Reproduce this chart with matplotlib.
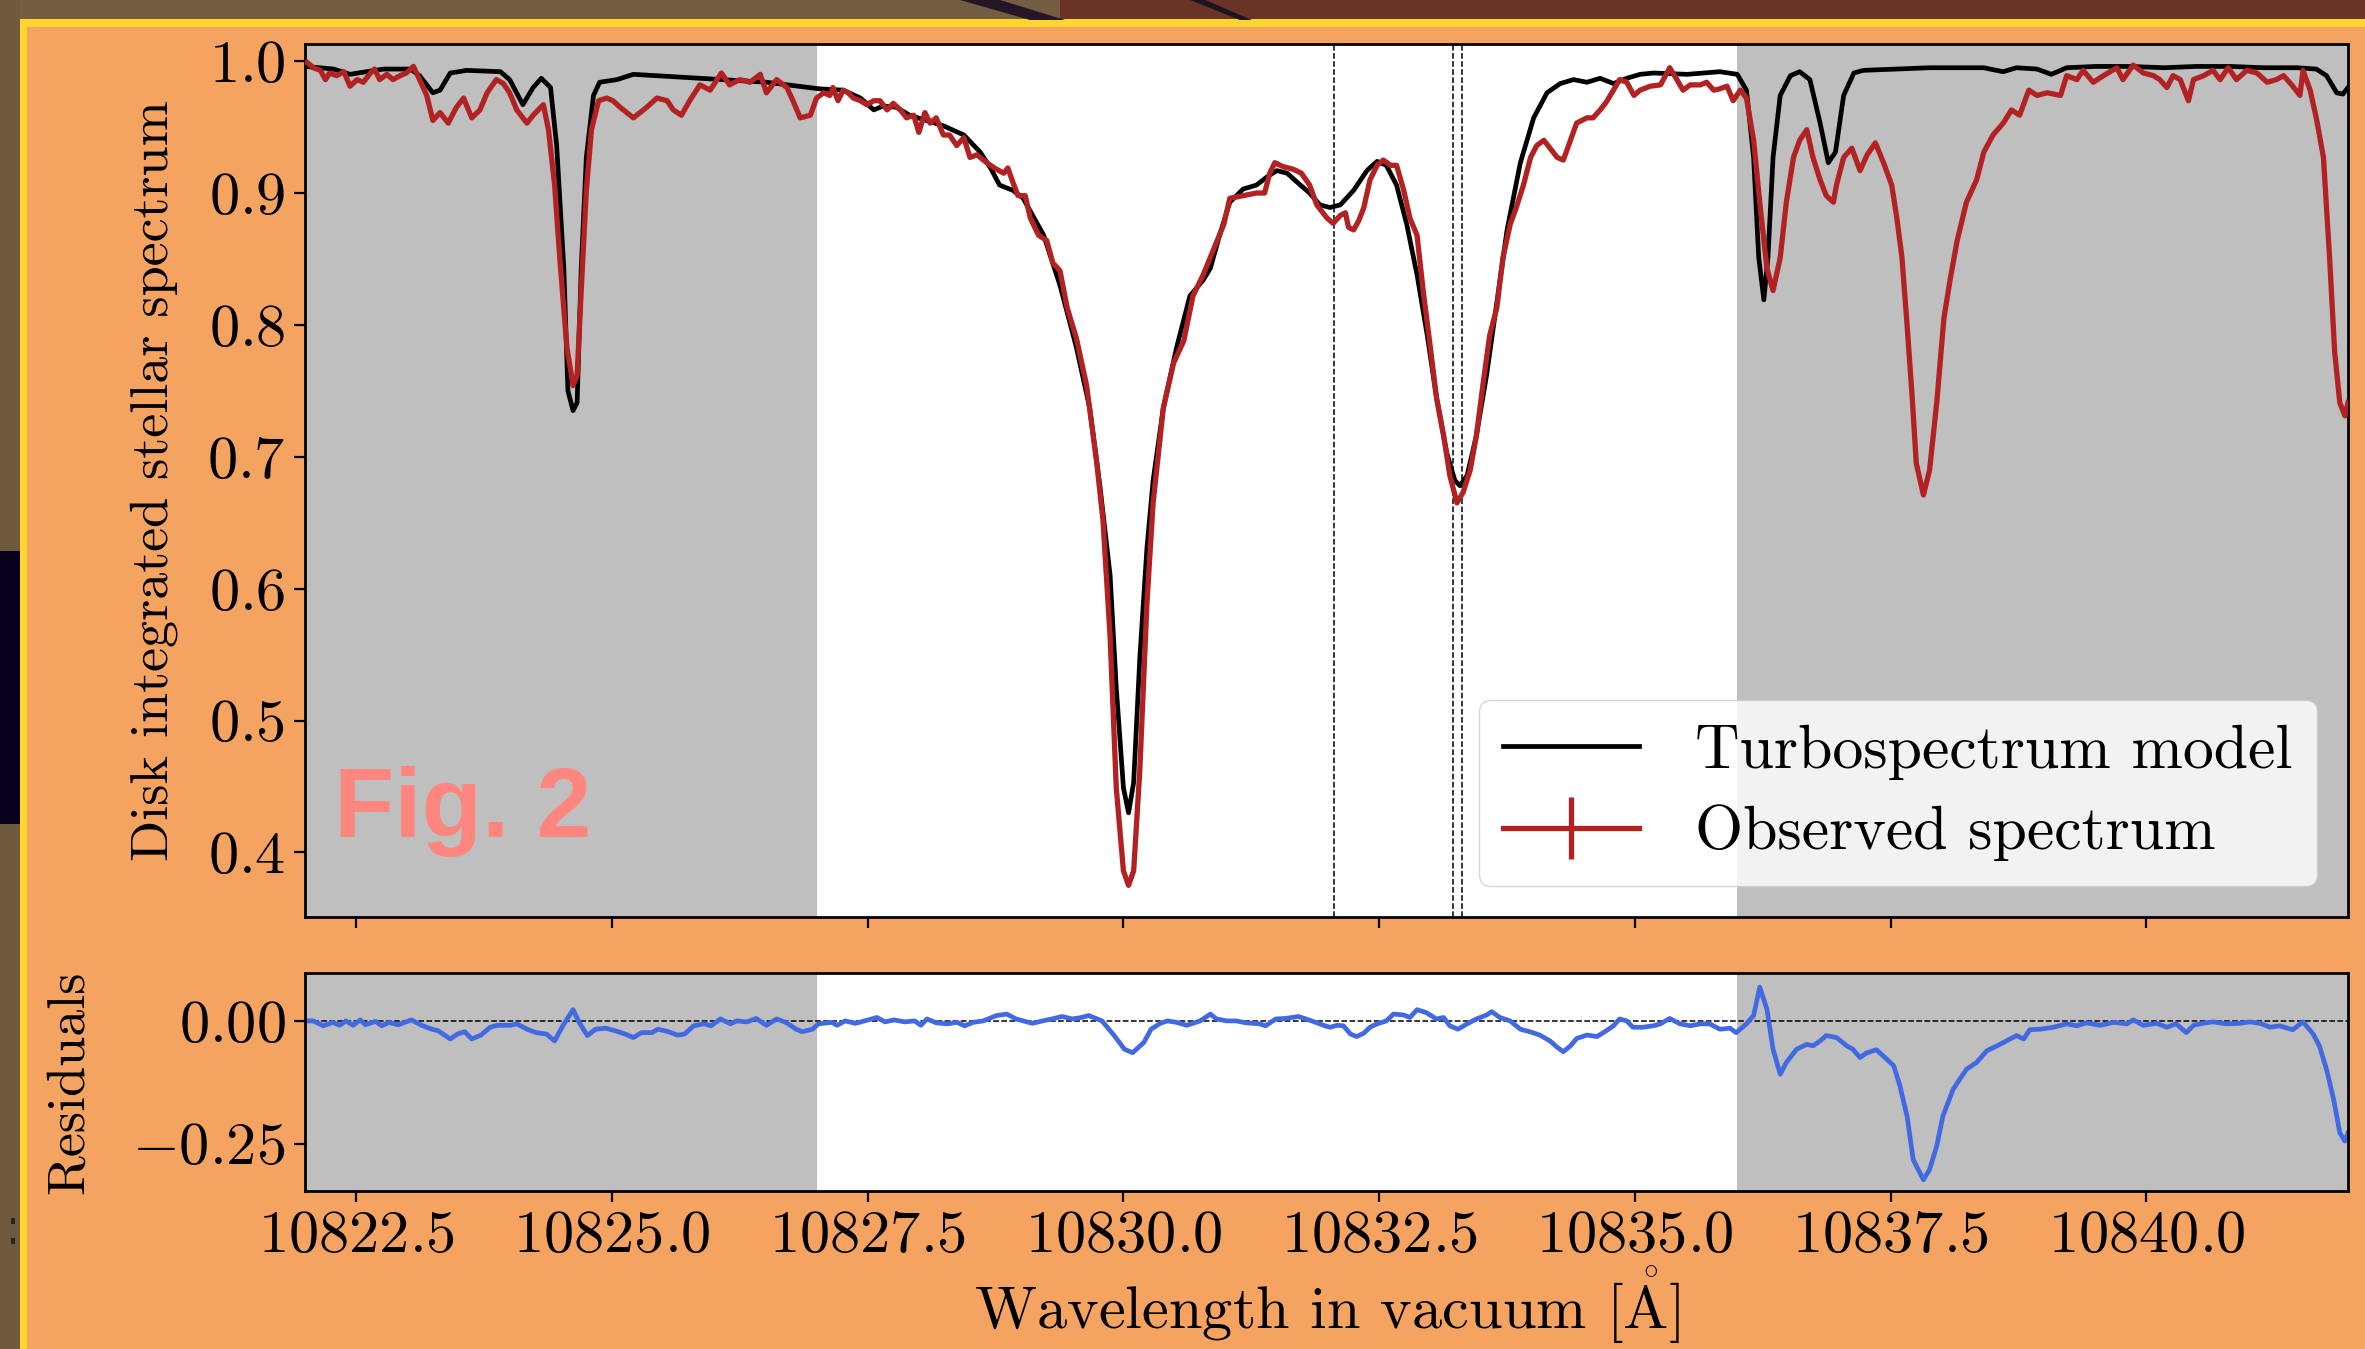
import numpy as np
import matplotlib
matplotlib.use('Agg')
import matplotlib.pyplot as plt
from matplotlib.patches import Rectangle, Polygon

# --- data ---
# Turbospectrum model (wavelength [A], normalised flux)
MODEL = [
    (10822.00, 0.996), (10822.28, 0.994), (10822.44, 0.990), (10822.60, 0.992), (10822.77, 0.994),
    (10823.03, 0.994), (10823.12, 0.989), (10823.25, 0.976), (10823.32, 0.978), (10823.42, 0.991),
    (10823.58, 0.993), (10823.91, 0.992), (10824.00, 0.986), (10824.13, 0.967), (10824.23, 0.980),
    (10824.31, 0.987), (10824.40, 0.980), (10824.46, 0.936), (10824.53, 0.843), (10824.57, 0.750),
    (10824.62, 0.735), (10824.66, 0.741), (10824.70, 0.843), (10824.75, 0.927), (10824.82, 0.974),
    (10824.88, 0.984), (10825.05, 0.986), (10825.21, 0.990), (10825.86, 0.987), (10826.51, 0.984),
    (10827.03, 0.979), (10827.26, 0.978), (10827.43, 0.972), (10827.56, 0.963), (10827.65, 0.966),
    (10827.78, 0.965), (10827.91, 0.959), (10828.24, 0.951), (10828.44, 0.944), (10828.60, 0.931),
    (10828.70, 0.919), (10828.79, 0.906), (10828.92, 0.902), (10829.02, 0.896), (10829.22, 0.868),
    (10829.38, 0.830), (10829.54, 0.783), (10829.67, 0.737), (10829.77, 0.678), (10829.87, 0.610),
    (10829.93, 0.525), (10830.00, 0.449), (10830.05, 0.430), (10830.10, 0.453), (10830.16, 0.547),
    (10830.23, 0.631), (10830.29, 0.682), (10830.39, 0.737), (10830.52, 0.783), (10830.65, 0.822),
    (10830.78, 0.834), (10830.85, 0.843), (10830.94, 0.868), (10831.04, 0.893), (10831.17, 0.903),
    (10831.30, 0.906), (10831.40, 0.912), (10831.50, 0.917), (10831.60, 0.915), (10831.73, 0.906),
    (10831.82, 0.900), (10831.92, 0.891), (10832.02, 0.889), (10832.12, 0.891), (10832.25, 0.902),
    (10832.38, 0.917), (10832.48, 0.924), (10832.57, 0.921), (10832.67, 0.906), (10832.77, 0.876),
    (10832.87, 0.838), (10832.97, 0.792), (10833.06, 0.745), (10833.16, 0.703), (10833.24, 0.682),
    (10833.29, 0.678), (10833.36, 0.686), (10833.45, 0.716), (10833.55, 0.762), (10833.65, 0.817),
    (10833.75, 0.872), (10833.88, 0.923), (10834.01, 0.957), (10834.14, 0.976), (10834.27, 0.983),
    (10834.40, 0.986), (10834.53, 0.984), (10834.66, 0.987), (10834.79, 0.983), (10834.92, 0.987),
    (10835.05, 0.990), (10835.18, 0.991), (10835.51, 0.990), (10835.83, 0.992), (10836.00, 0.990),
    (10836.09, 0.978), (10836.16, 0.927), (10836.21, 0.851), (10836.26, 0.819), (10836.30, 0.851),
    (10836.35, 0.927), (10836.42, 0.974), (10836.52, 0.989), (10836.61, 0.992), (10836.71, 0.986),
    (10836.81, 0.953), (10836.89, 0.923), (10836.96, 0.931), (10837.04, 0.974), (10837.14, 0.991),
    (10837.23, 0.993), (10837.56, 0.994), (10837.88, 0.995), (10838.41, 0.995), (10838.47, 0.994),
    (10838.60, 0.992), (10838.73, 0.995), (10838.93, 0.994), (10839.07, 0.990), (10839.22, 0.995),
    (10839.51, 0.996), (10839.84, 0.996), (10840.17, 0.995), (10840.49, 0.996), (10840.82, 0.996),
    (10841.14, 0.995), (10841.47, 0.995), (10841.66, 0.994), (10841.76, 0.989), (10841.86, 0.976),
    (10841.92, 0.975), (10841.97, 0.980),
]

# observed disk integrated spectrum
OBSERVED = [
    (10822.02, 0.999), (10822.08, 0.995), (10822.15, 0.993), (10822.20, 0.986), (10822.24, 0.991),
    (10822.31, 0.989), (10822.38, 0.992), (10822.44, 0.981), (10822.51, 0.986), (10822.57, 0.984),
    (10822.64, 0.991), (10822.68, 0.994), (10822.73, 0.986), (10822.80, 0.990), (10822.86, 0.986),
    (10822.93, 0.989), (10822.99, 0.991), (10823.06, 0.996), (10823.12, 0.986), (10823.19, 0.974),
    (10823.25, 0.955), (10823.32, 0.961), (10823.40, 0.953), (10823.48, 0.965), (10823.55, 0.972),
    (10823.63, 0.957), (10823.71, 0.963), (10823.78, 0.976), (10823.87, 0.986), (10823.94, 0.983),
    (10824.00, 0.976), (10824.07, 0.963), (10824.17, 0.953), (10824.23, 0.959), (10824.33, 0.967),
    (10824.38, 0.948), (10824.44, 0.906), (10824.49, 0.851), (10824.56, 0.783), (10824.62, 0.754),
    (10824.66, 0.762), (10824.70, 0.826), (10824.75, 0.902), (10824.80, 0.948), (10824.87, 0.970),
    (10824.95, 0.972), (10825.01, 0.970), (10825.08, 0.965), (10825.21, 0.957), (10825.34, 0.965),
    (10825.44, 0.972), (10825.54, 0.970), (10825.60, 0.963), (10825.68, 0.959), (10825.76, 0.970),
    (10825.86, 0.982), (10825.96, 0.978), (10826.07, 0.991), (10826.15, 0.982), (10826.25, 0.986),
    (10826.35, 0.984), (10826.45, 0.990), (10826.51, 0.976), (10826.61, 0.986), (10826.71, 0.980),
    (10826.77, 0.970), (10826.84, 0.957), (10826.94, 0.959),
    (10827.00, 0.972), (10827.07, 0.976), (10827.13, 0.974), (10827.16, 0.980), (10827.21, 0.970),
    (10827.26, 0.978), (10827.31, 0.976), (10827.36, 0.972), (10827.43, 0.970), (10827.49, 0.967),
    (10827.56, 0.970), (10827.62, 0.970), (10827.69, 0.963), (10827.75, 0.968), (10827.82, 0.963),
    (10827.88, 0.957), (10827.95, 0.959), (10828.00, 0.946), (10828.06, 0.961), (10828.11, 0.953),
    (10828.17, 0.957), (10828.24, 0.944), (10828.30, 0.944), (10828.37, 0.936), (10828.44, 0.942),
    (10828.50, 0.927), (10828.57, 0.929), (10828.63, 0.925), (10828.70, 0.921), (10828.76, 0.918),
    (10828.83, 0.915), (10828.87, 0.919), (10828.92, 0.908), (10828.97, 0.898), (10829.04, 0.898),
    (10829.09, 0.881), (10829.17, 0.868), (10829.25, 0.864), (10829.31, 0.847), (10829.38, 0.841),
    (10829.45, 0.813), (10829.54, 0.790), (10829.64, 0.754), (10829.74, 0.695), (10829.80, 0.652),
    (10829.87, 0.563), (10829.93, 0.449), (10830.00, 0.386), (10830.05, 0.375), (10830.10, 0.386),
    (10830.16, 0.462), (10830.23, 0.589), (10830.29, 0.665), (10830.39, 0.737), (10830.49, 0.771),
    (10830.59, 0.788), (10830.68, 0.822), (10830.78, 0.838), (10830.88, 0.857), (10830.98, 0.876),
    (10831.04, 0.896), (10831.17, 0.898), (10831.30, 0.900), (10831.38, 0.900), (10831.43, 0.915),
    (10831.48, 0.923), (10831.56, 0.920), (10831.66, 0.918), (10831.74, 0.915), (10831.82, 0.906),
    (10831.89, 0.891), (10831.95, 0.885),
    (10831.99, 0.881), (10832.05, 0.877), (10832.12, 0.883), (10832.17, 0.885), (10832.20, 0.874),
    (10832.25, 0.872), (10832.30, 0.879), (10832.35, 0.889), (10832.41, 0.910), (10832.48, 0.921),
    (10832.54, 0.925), (10832.61, 0.921), (10832.67, 0.921), (10832.74, 0.902), (10832.80, 0.881),
    (10832.87, 0.868), (10832.93, 0.826), (10833.00, 0.783), (10833.06, 0.745), (10833.13, 0.716),
    (10833.19, 0.686), (10833.26, 0.665), (10833.32, 0.673), (10833.39, 0.690), (10833.45, 0.716),
    (10833.52, 0.758), (10833.58, 0.792), (10833.65, 0.813), (10833.71, 0.851), (10833.78, 0.876),
    (10833.84, 0.889), (10833.91, 0.906), (10833.98, 0.927), (10834.04, 0.936), (10834.11, 0.940),
    (10834.17, 0.934), (10834.24, 0.927), (10834.30, 0.925), (10834.37, 0.940), (10834.43, 0.953),
    (10834.53, 0.957), (10834.59, 0.957), (10834.66, 0.963), (10834.72, 0.969), (10834.79, 0.978),
    (10834.85, 0.986), (10834.92, 0.984), (10834.99, 0.974), (10835.05, 0.978), (10835.15, 0.981),
    (10835.25, 0.982), (10835.34, 0.995), (10835.41, 0.986), (10835.47, 0.978), (10835.54, 0.982),
    (10835.64, 0.982), (10835.70, 0.984), (10835.77, 0.978), (10835.83, 0.979), (10835.90, 0.981),
    (10835.96, 0.970), (10836.03, 0.978), (10836.09, 0.972), (10836.16, 0.940), (10836.22, 0.893),
    (10836.29, 0.843), (10836.35, 0.826), (10836.42, 0.851), (10836.48, 0.893), (10836.55, 0.927),
    (10836.61, 0.940), (10836.68, 0.948), (10836.74, 0.927), (10836.81, 0.910), (10836.87, 0.898),
    (10836.94, 0.893),
    (10836.97, 0.906), (10837.04, 0.927), (10837.12, 0.934), (10837.20, 0.917), (10837.27, 0.929),
    (10837.35, 0.938), (10837.43, 0.923), (10837.51, 0.906), (10837.56, 0.881), (10837.61, 0.851),
    (10837.66, 0.800), (10837.71, 0.745), (10837.75, 0.695), (10837.82, 0.671), (10837.88, 0.690),
    (10837.95, 0.741), (10838.02, 0.805), (10838.08, 0.834), (10838.15, 0.864), (10838.24, 0.893),
    (10838.34, 0.910), (10838.41, 0.931), (10838.50, 0.944), (10838.60, 0.953), (10838.68, 0.963),
    (10838.76, 0.959), (10838.85, 0.978), (10838.93, 0.974), (10839.03, 0.976), (10839.16, 0.974),
    (10839.22, 0.989), (10839.32, 0.986), (10839.38, 0.993), (10839.48, 0.984), (10839.58, 0.989),
    (10839.71, 0.995), (10839.77, 0.986), (10839.87, 0.997), (10839.97, 0.991), (10840.07, 0.989),
    (10840.13, 0.986), (10840.20, 0.980), (10840.26, 0.989), (10840.33, 0.986), (10840.41, 0.970),
    (10840.46, 0.986), (10840.56, 0.989), (10840.65, 0.993), (10840.72, 0.986), (10840.80, 0.995),
    (10840.88, 0.986), (10840.98, 0.993), (10841.08, 0.991), (10841.18, 0.984), (10841.27, 0.986),
    (10841.34, 0.989), (10841.42, 0.982), (10841.50, 0.974), (10841.53, 0.993), (10841.60, 0.978),
    (10841.66, 0.957), (10841.73, 0.927), (10841.79, 0.851), (10841.84, 0.779), (10841.89, 0.741),
    (10841.94, 0.731), (10841.97, 0.741),
]
OBS_ERR = 0.0

# residuals (observed - model)
RESIDUALS = [
    (10822.02, 0.001), (10822.08, 0.001), (10822.18, -0.009), (10822.27, -0.002), (10822.34, -0.008),
    (10822.40, 0.001), (10822.47, -0.008), (10822.54, 0.003), (10822.59, -0.007), (10822.69, 0.000),
    (10822.75, -0.009), (10822.82, -0.002), (10822.91, -0.007), (10823.04, 0.003), (10823.14, -0.008),
    (10823.24, -0.016), (10823.30, -0.019), (10823.42, -0.036), (10823.49, -0.026), (10823.56, -0.021),
    (10823.63, -0.036), (10823.72, -0.028), (10823.81, -0.012), (10823.88, -0.008), (10824.01, -0.008),
    (10824.07, -0.005), (10824.17, -0.016), (10824.26, -0.023), (10824.36, -0.026), (10824.44, -0.040),
    (10824.52, -0.009), (10824.62, 0.024), (10824.68, -0.002), (10824.76, -0.029), (10824.84, -0.016),
    (10824.94, -0.014), (10825.03, -0.019), (10825.13, -0.026), (10825.21, -0.033), (10825.29, -0.023),
    (10825.39, -0.023), (10825.45, -0.016), (10825.55, -0.021), (10825.64, -0.028), (10825.71, -0.026),
    (10825.80, -0.009), (10825.90, -0.005), (10825.97, -0.009), (10826.06, 0.005), (10826.16, -0.005),
    (10826.22, 0.001), (10826.32, -0.001), (10826.41, 0.006), (10826.51, -0.008), (10826.61, 0.005),
    (10826.70, -0.002), (10826.80, -0.016), (10826.86, -0.021), (10826.96, -0.016), (10827.02, -0.005),
    (10827.15, -0.002), (10827.20, -0.008), (10827.28, 0.001), (10827.38, -0.004), (10827.47, 0.001),
    (10827.59, 0.008), (10827.67, -0.001), (10827.76, 0.003), (10827.86, -0.001), (10827.96, 0.001),
    (10828.02, -0.008), (10828.08, 0.005), (10828.17, -0.003), (10828.28, -0.005), (10828.37, -0.002),
    (10828.45, -0.009), (10828.53, -0.002), (10828.63, 0.001), (10828.76, 0.012), (10828.86, 0.015),
    (10828.95, 0.005), (10829.02, 0.001), (10829.11, -0.004), (10829.21, 0.001), (10829.30, 0.005),
    (10829.40, 0.010), (10829.50, 0.005), (10829.59, 0.008), (10829.66, 0.012), (10829.79, 0.001),
    (10829.91, -0.029), (10830.01, -0.057), (10830.09, -0.064), (10830.20, -0.043), (10830.27, -0.016),
    (10830.36, -0.004), (10830.43, 0.001), (10830.52, -0.002), (10830.62, -0.008), (10830.75, 0.001),
    (10830.85, 0.015), (10830.91, 0.005), (10831.01, 0.001), (10831.10, 0.001), (10831.20, -0.003),
    (10831.33, -0.005), (10831.39, -0.009), (10831.49, 0.005), (10831.58, 0.006), (10831.71, 0.010),
    (10831.84, 0.001), (10831.97, -0.009),
    (10832.02, -0.012), (10832.09, -0.008), (10832.15, -0.009), (10832.22, -0.026), (10832.28, -0.031),
    (10832.35, -0.024), (10832.41, -0.012), (10832.48, -0.005), (10832.57, 0.001), (10832.64, 0.015),
    (10832.74, 0.013), (10832.80, 0.008), (10832.87, 0.024), (10832.96, 0.018), (10833.06, 0.005),
    (10833.13, 0.008), (10833.19, -0.009), (10833.27, -0.016), (10833.36, -0.005), (10833.45, 0.005),
    (10833.55, 0.013), (10833.60, 0.020), (10833.68, 0.008), (10833.78, 0.001), (10833.88, -0.016),
    (10833.97, -0.021), (10834.07, -0.028), (10834.17, -0.040), (10834.24, -0.053), (10834.30, -0.062),
    (10834.37, -0.050), (10834.43, -0.035), (10834.53, -0.028), (10834.63, -0.031), (10834.72, -0.019),
    (10834.79, -0.009), (10834.85, 0.005), (10834.92, 0.001), (10834.98, -0.012), (10835.08, -0.012),
    (10835.18, -0.009), (10835.25, -0.005), (10835.34, 0.006), (10835.44, -0.005), (10835.54, -0.009),
    (10835.64, -0.005), (10835.73, -0.005), (10835.83, -0.016), (10835.93, -0.014), (10835.99, -0.023),
    (10836.09, -0.005), (10836.16, 0.012), (10836.22, 0.070), (10836.29, 0.025), (10836.35, -0.057),
    (10836.42, -0.108), (10836.48, -0.084), (10836.58, -0.057), (10836.68, -0.047), (10836.74, -0.050),
    (10836.81, -0.040), (10836.87, -0.029), (10836.97, -0.033), (10837.07, -0.050), (10837.13, -0.057),
    (10837.20, -0.074), (10837.26, -0.065), (10837.36, -0.058), (10837.46, -0.077), (10837.53, -0.091),
    (10837.59, -0.132), (10837.66, -0.194), (10837.72, -0.283), (10837.82, -0.324), (10837.88, -0.303),
    (10837.95, -0.255), (10838.01, -0.194), (10838.11, -0.139), (10838.24, -0.098), (10838.34, -0.084),
    (10838.44, -0.060), (10838.54, -0.050), (10838.63, -0.040), (10838.73, -0.029), (10838.80, -0.036),
    (10838.86, -0.017), (10838.96, -0.016), (10839.09, -0.012), (10839.22, -0.005), (10839.32, -0.009),
    (10839.41, -0.003), (10839.55, -0.008), (10839.68, -0.002), (10839.81, -0.005), (10839.87, 0.003),
    (10839.97, -0.008), (10840.10, -0.004), (10840.20, -0.012), (10840.29, -0.005), (10840.39, -0.023),
    (10840.46, -0.008), (10840.55, -0.004), (10840.65, -0.001), (10840.78, -0.005), (10840.91, -0.004),
    (10841.01, -0.001), (10841.11, -0.004), (10841.21, -0.012), (10841.30, -0.009), (10841.43, -0.017),
    (10841.53, -0.001), (10841.63, -0.026), (10841.69, -0.050), (10841.76, -0.098), (10841.83, -0.160),
    (10841.89, -0.228), (10841.94, -0.245), (10841.97, -0.228),
]

# He I triplet positions and the masked (grey) wavelength ranges
HE_LINES = [10832.057, 10833.217, 10833.306]
MASKED = [(10822.0, 10827.0), (10836.0, 10842.0)]
XTICKS = [10822.5, 10825.0, 10827.5, 10830.0, 10832.5, 10835.0, 10837.5, 10840.0]
YTICKS = [0.4, 0.5, 0.6, 0.7, 0.8, 0.9, 1.0]
RTICKS = [-0.25, 0.0]

model_wl, model_flux = np.array(MODEL).T
obs_wl, obs_flux = np.array(OBSERVED).T
res_wl, res_val = np.array(RESIDUALS).T

# --- style ---
plt.rcParams['font.family'] = 'serif'
plt.rcParams['font.serif'] = ['cmr10']
plt.rcParams['mathtext.fontset'] = 'cm'
plt.rcParams['axes.formatter.use_mathtext'] = True
plt.rcParams['axes.formatter.useoffset'] = False

W, H = 2365, 1349
fig = plt.figure(figsize=(W / 100, H / 100), dpi=100, facecolor='#F4A460')


def px_rect(x0, y0, x1, y1, color):
    fig.add_artist(Rectangle((x0 / W, 1 - y1 / H), (x1 - x0) / W, (y1 - y0) / H,
                             transform=fig.transFigure, facecolor=color,
                             edgecolor='none', zorder=0.5))


def px_poly(pts, color):
    fig.add_artist(Polygon([(x / W, 1 - y / H) for x, y in pts], closed=True,
                           transform=fig.transFigure, facecolor=color,
                           edgecolor='none', zorder=0.6))


# screenshot frame around the figure
px_rect(0, 0, W, 20, '#745D40')
px_rect(1060, 0, W, 20, '#693426')
px_poly([(960, 0), (1000, 0), (1065, 20), (1030, 20)], '#241624')
px_poly([(1190, 0), (1205, 0), (1252, 20), (1240, 20)], '#1E1420')
px_rect(0, 0, 20, H, '#705A3E')
px_rect(0, 551, 20, 824, '#07001A')
px_rect(11, 1218, 15, 1224, '#2B2520')
px_rect(11, 1238, 15, 1244, '#2B2520')
px_rect(20, 19, W, 27, '#FFD52E')
px_rect(20, 19, 27, H, '#FFD52E')

ax = fig.add_axes([305 / W, 1 - 917 / H, 2043 / W, 873 / H])
axr = fig.add_axes([305 / W, 1 - 1191 / H, 2043 / W, 218 / H], sharex=ax)

for a in (ax, axr):
    for lo, hi in MASKED:
        a.axvspan(lo, hi, color='0.75', lw=0, zorder=0)
    a.tick_params(labelsize=43.5, length=8, width=1.6, direction='out', pad=6)
    for s in a.spines.values():
        s.set_linewidth(2.0)

for w in HE_LINES:
    ax.axvline(w, color='k', ls='--', lw=1.1, zorder=1.5)

ax.plot(model_wl, model_flux, color='k', lw=3.4, label='Turbospectrum model', zorder=2)
ax.errorbar(obs_wl, obs_flux, yerr=OBS_ERR, color='firebrick', lw=3.8, elinewidth=3.8,
            label='Observed spectrum', zorder=3)

ax.set_xlim(10822.0, 10841.97)
ax.set_ylim(0.351, 1.013)
ax.set_yticks(YTICKS)
ax.tick_params(labelbottom=False)
ax.set_ylabel('Disk integrated stellar spectrum', fontsize=39)
ax.yaxis.set_label_coords(-0.062, 0.5)
ax.legend(loc='lower right', fontsize=44.5, handlelength=2.2, handletextpad=0.9,
          borderpad=0.4, labelspacing=0.4)

axr.axhline(0, color='k', ls='--', lw=1.1, zorder=1)
axr.plot(res_wl, res_val, color='royalblue', lw=3.4, zorder=2)
axr.set_ylim(-0.347, 0.099)
axr.set_yticks(RTICKS)
axr.set_xticks(XTICKS)
axr.set_ylabel('Residuals', fontsize=39)
axr.yaxis.set_label_coords(-0.104, 0.5)
axr.set_xlabel(r'Wavelength in vacuum [$\mathring{\mathrm{A}}$]', fontsize=43.5, labelpad=0)

fig.text(334 / W, 1 - 837 / H, 'Fig. 2', fontsize=71, fontweight='bold',
         family=['Liberation Sans', 'DejaVu Sans'], color='#FF867E',
         ha='left', va='baseline', zorder=5)

fig.savefig('out.png', dpi=100, facecolor=fig.get_facecolor())
